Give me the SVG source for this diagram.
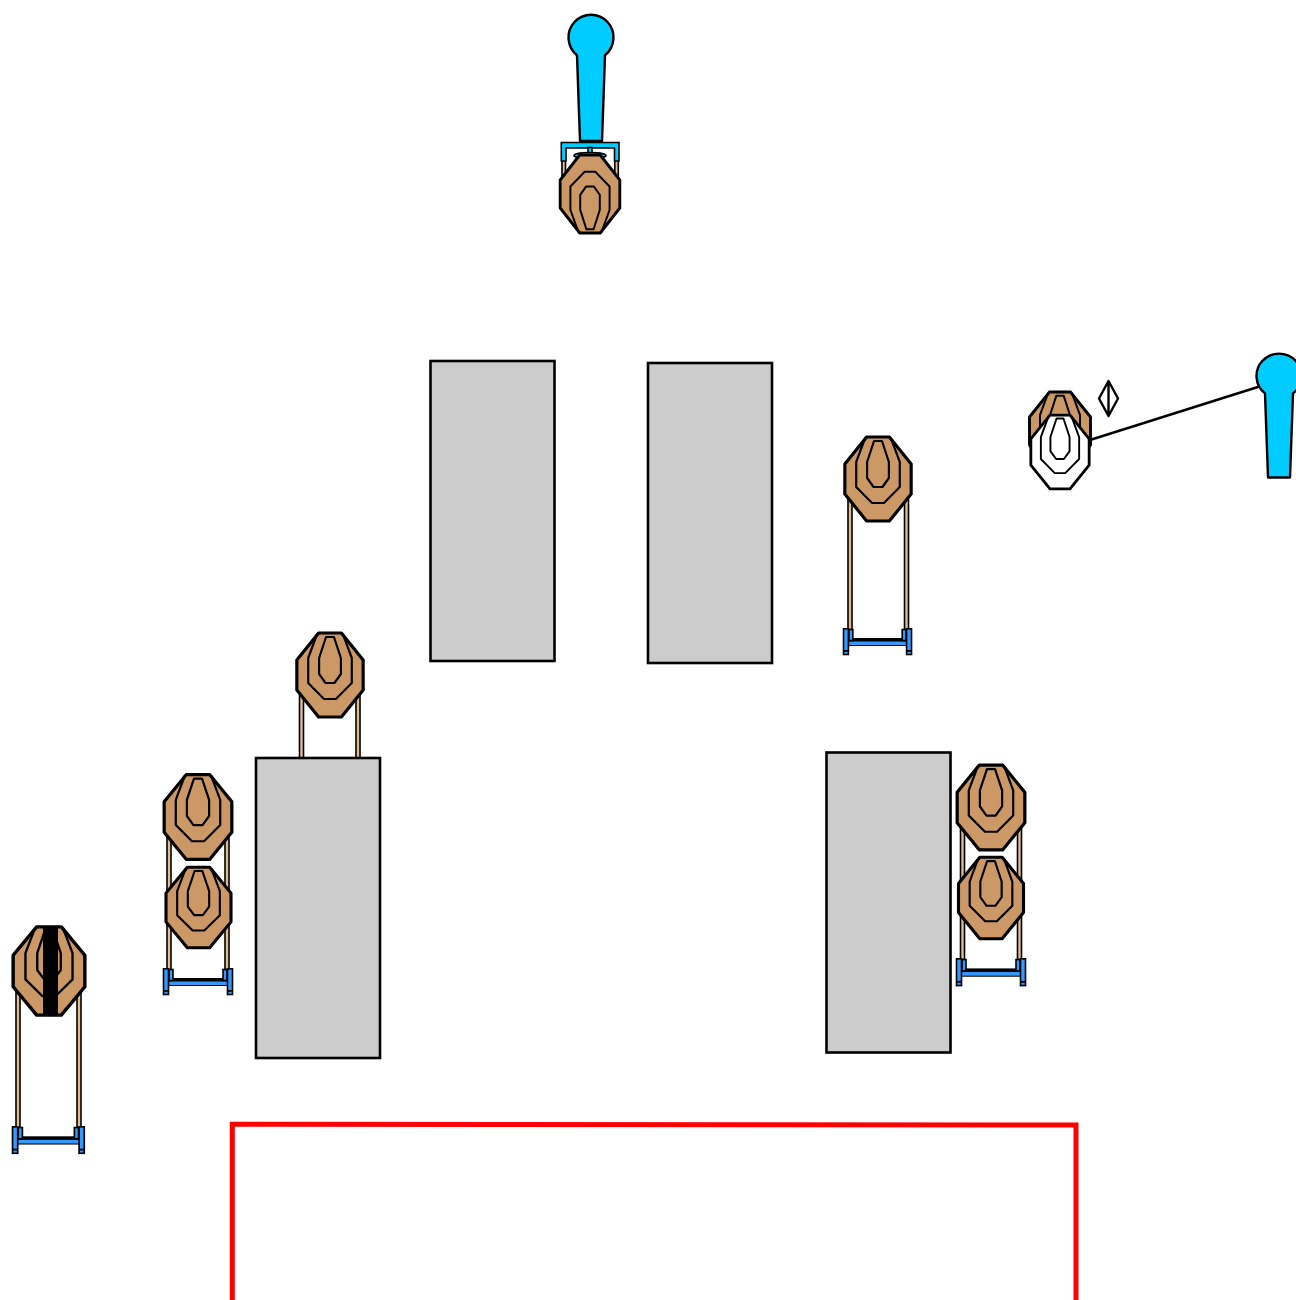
<svg xmlns="http://www.w3.org/2000/svg" width="1296" height="1300" viewBox="0 0 1296 1300">
<style>
.wall{fill:#ccc;stroke:#000;stroke-width:2.6}
.o{stroke:#000;stroke-width:3.2;stroke-linejoin:round}
.i{fill:none;stroke:#000;stroke-width:2.2;stroke-linejoin:round}
.tan{fill:#cc9966}
.w{fill:#fff}
.up{fill:#e3bd8d;stroke:#000;stroke-width:1.6}
.blue{fill:#3399ff;stroke:#000;stroke-width:1.6}
.cyan{fill:#00ccff;stroke:#000;stroke-width:1.6}
.person{fill:#00ccff;stroke:#000;stroke-width:2.4;stroke-linejoin:round}
.line{fill:none;stroke:#000;stroke-width:2.4}
</style>
<defs>
<g id="t-tan">
<path class="o tan" d="M-11.500,-42H11.500L33.500,-15V15L11.500,42H-11.500L-33.500,15V-15Z"/>
<path class="i" d="M-13,-41L-22,-17V8L-6,24H6L22,8V-17L13,-41"/>
<path class="i" d="M-4,-38H4L11,-17V-1L4.500,8H-4.500L-11,-1V-17Z"/>
</g>
<g id="t-white">
<path class="o w" d="M-11.500,-42H11.500L33.500,-15V15L11.500,42H-11.500L-33.500,15V-15Z"/>
<path class="i" d="M-13,-41L-22,-17V8L-6,24H6L22,8V-17L13,-41"/>
<path class="i" d="M-4,-38H4L11,-17V-1L4.500,8H-4.500L-11,-1V-17Z"/>
</g>
<g id="base">
<rect x="5" y="10" width="60" height="8" fill="#000"/>
<rect x="5" y="13.500" width="60" height="3.500" fill="#3399ff"/>
<rect class="blue" x="6" y="1.500" width="4" height="11"/>
<rect class="blue" x="60" y="1.500" width="4" height="11"/>
<rect class="blue" x="0.500" y="0.800" width="5" height="25.700"/>
<rect class="blue" x="64.500" y="0.800" width="5" height="25.700"/>
<rect x="0.500" y="22" width="5" height="1.800" fill="#000"/>
<rect x="64.500" y="22" width="5" height="1.800" fill="#000"/>
</g>
<g id="person-shape">
<path class="person" d="M-14,19A22.500,22.500 0 1 1 14,19L11,104H-11Z"/>
</g>
</defs>

<g id="walls">
<rect id="wall-1" class="wall" x="430.500" y="361" width="124" height="300"/>
<rect id="wall-2" class="wall" x="648" y="363" width="124" height="300"/>
<rect id="wall-4" class="wall" x="826.500" y="752.500" width="124" height="300"/>
</g>

<g id="connectors">
<path class="line" d="M1090,440L1261,386"/>
</g>

<g id="person-top">
<use href="#person-shape" transform="translate(591,36) scale(1,1.01)"/>
</g>

<g id="target-top">
<rect class="up" x="562" y="158" width="3.500" height="24"/>
<rect class="up" x="614.800" y="158" width="3.500" height="24"/>
<path class="cyan" d="M561.300,142.500H619V161H614.500V148H566V161H561.300Z"/>
<rect class="cyan" x="588" y="147.500" width="4" height="6"/>
<ellipse class="cyan" cx="590" cy="155.500" rx="16" ry="3"/>
<use href="#t-tan" transform="translate(590,194) scale(.89,-.93)"/>
</g>

<g id="target-swing">
<use href="#t-tan" transform="translate(1060,431) scale(.91,.93)"/>
<use href="#t-white" transform="translate(1060,452) scale(.87,.88)"/>
</g>
<g id="pivot">
<path d="M1108.500,381L1118,398.500L1108.500,416L1099,398.500Z M1108.500,381V416" fill="#fff" stroke="#000" stroke-width="2.400" stroke-linejoin="round"/>
</g>
<g id="person-right">
<use href="#person-shape" transform="translate(1279,374.500) scale(1,.99)"/>
</g>

<g id="target-a">
<rect class="up" x="848" y="500" width="4" height="132"/>
<rect class="up" x="904.500" y="500" width="4" height="132"/>
<use href="#base" transform="translate(843,628) scale(.986,1)"/>
<use href="#t-tan" transform="translate(878,479) scale(.99,1)"/>
</g>

<g id="target-b">
<rect class="up" x="299.500" y="695" width="4" height="64"/>
<rect class="up" x="356" y="695" width="4" height="64"/>
<use href="#t-tan" transform="translate(330,675) scale(.99,1)"/>
</g>
<rect id="wall-3" class="wall" x="256" y="758" width="124" height="300"/>

<g id="target-c">
<rect class="up" x="167" y="835" width="4" height="137"/>
<rect class="up" x="225" y="835" width="4" height="137"/>
<use href="#base" transform="translate(163,968)"/>
<use href="#t-tan" transform="translate(198,817) scale(1.01,1.01)"/>
<use href="#t-tan" transform="translate(198.500,907.500) scale(.97,.96)"/>
</g>

<g id="target-d">
<rect class="up" x="16" y="990" width="4" height="140"/>
<rect class="up" x="77" y="990" width="4" height="140"/>
<use href="#base" transform="translate(12,1126) scale(1.04,1.03)"/>
<use href="#t-tan" transform="translate(49,971) scale(1.07,1.05)"/>
<rect x="43" y="927" width="15" height="88" fill="#000"/>
</g>

<g id="target-e">
<rect class="up" x="960.500" y="825" width="4" height="137"/>
<rect class="up" x="1017.500" y="825" width="4" height="137"/>
<use href="#base" transform="translate(956,958) scale(1,1.04)"/>
<use href="#t-tan" transform="translate(991,807.500) scale(1.01,1.01)"/>
<use href="#t-tan" transform="translate(991,898) scale(.97,.97)"/>
</g>

<g id="zone">
<path d="M232.300,1300V1124.200L1076,1125V1300" fill="none" stroke="#f00" stroke-width="5"/>
</g>
</svg>
